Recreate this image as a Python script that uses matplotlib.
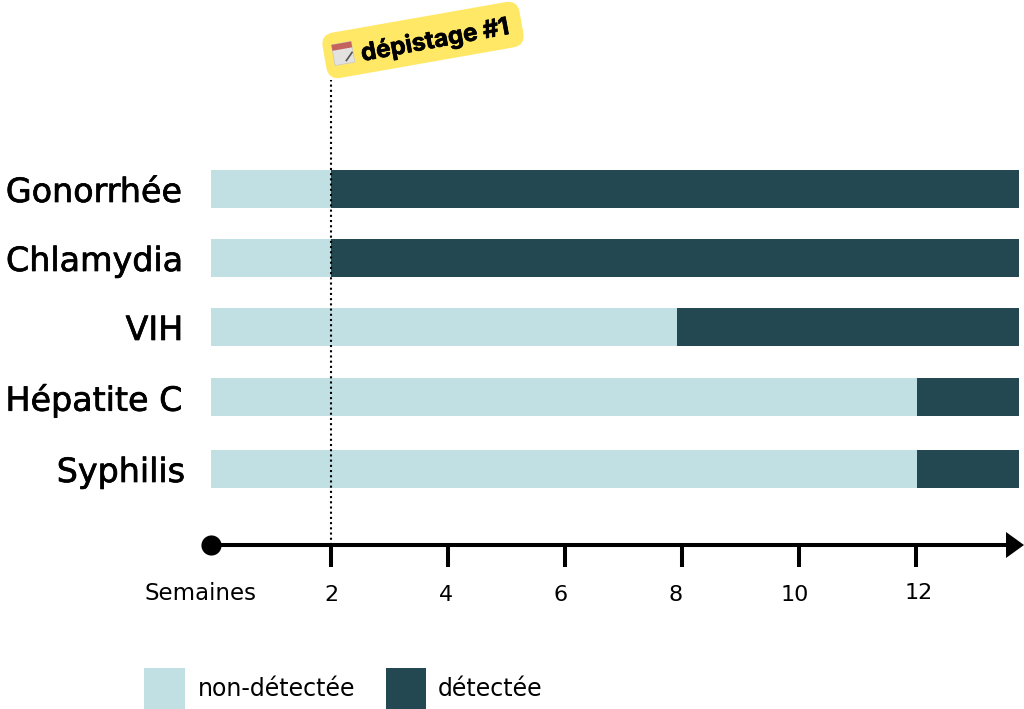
import matplotlib
matplotlib.use("Agg")
from matplotlib import pyplot as plt
from matplotlib import patheffects
from matplotlib.patches import FancyBboxPatch, Rectangle, Polygon
from matplotlib.transforms import Affine2D, ScaledTranslation

# data
diseases = ["Gonorrhée", "Chlamydia", "VIH", "Hépatite C", "Syphilis"]
detected_from = [2.0, 2.0, 7.92, 12.02, 12.02]
week_ticks = [2, 4, 6, 8, 10, 12]
week_labels = ["2", "4", "6", "8", "10", "12"]
axis_end = 13.76
legend_labels = ["non-détectée", "détectée"]

light = "#C1E0E3"
dark = "#244852"
plt.rcParams["font.family"] = ["DejaVu Sans"]

W, H = 1024, 709
fig = plt.figure(figsize=(W / 100, H / 100), dpi=100)
heavy = [patheffects.withStroke(linewidth=0.5, foreground="black")]

# main axes: bottom edge sits on the time axis line
ax = fig.add_axes([211 / W, (H - 545) / H, (W - 211) / W, 545 / H])
ax.set_xlim(-0.051, 13.846)
ax.set_ylim(545, 0)
row_y = [189, 258, 327, 397, 469]
row_dx = [-1, 0, 0, -1, 2]
tick_dx = [0, -2, -4, -6, -4, 3]
tick_dy = [0, 0, 0, 0, 0, 2]

for y, d in zip(row_y, detected_from):
    ax.barh(y, d + 0.051, left=-0.051, height=38, color=light, zorder=1)
    ax.barh(y, axis_end - d, left=d, height=38, color=dark, zorder=1)

ax.axvline(2, ymin=0, ymax=(545 - 80) / 545, color="black", lw=1.5, ls=(0, (1, 1.5)), zorder=3)

for s in ax.spines.values():
    s.set_visible(False)
ax.patch.set_visible(False)
ax.set_xticks(week_ticks, week_labels, fontsize=16)
ax.tick_params(axis="x", length=16, width=2.9, pad=13, color="black")
ax.set_yticks(row_y, diseases, fontsize=24)
ax.tick_params(axis="y", length=0, pad=20)

for lab, dx, dy in zip(ax.get_xticklabels(), tick_dx, tick_dy):
    lab.set_transform(lab.get_transform() + ScaledTranslation(dx / 100, dy / 100, fig.dpi_scale_trans))
for lab, dx in zip(ax.get_yticklabels(), row_dx):
    lab.set_transform(lab.get_transform() + ScaledTranslation(dx / 100, 0, fig.dpi_scale_trans))
    lab.set_path_effects(heavy)

# overlay in pixels for axis line, note and legend
ov = fig.add_axes([0, 0, 1, 1])
ov.set_xlim(0, W)
ov.set_ylim(H, 0)
ov.axis("off")

ov.plot([211, 1008], [545, 545], color="black", lw=2.9, solid_capstyle="butt")
ov.add_patch(Polygon([[1006, 532], [1024, 545], [1006, 558]], color="black", lw=0))
ov.plot([211], [545], "o", color="black", ms=14.5, mew=0)
ov.text(201, 594, "Semaines", fontsize=16.5, ha="center", va="center", color="black")

# yellow note, tilted
rot = Affine2D().rotate_deg_around(423, 40, -10) + ov.transData
ov.add_patch(FancyBboxPatch((326, 20), 194, 40, boxstyle="round,pad=0,rounding_size=9",
                            fc="#FFE866", ec="#FFE866", lw=4.3, transform=rot))
ov.text(435, 40, "dépistage #1", fontsize=17.5, fontweight="bold", family="Inter", ha="center", va="center",
        rotation=10.5, rotation_mode="anchor", color="black", path_effects=heavy)

# calendar icon
rot_icon = Affine2D().rotate_deg_around(343, 53, -10) + ov.transData
ov.add_patch(Rectangle((333, 43), 20, 21, fc="#E4E2E0", ec="#C9C7C5", lw=0.5, transform=rot_icon))
ov.add_patch(Rectangle((333, 43), 20, 6, fc="#C4625E", ec="none", transform=rot_icon))
ov.plot([345, 352], [61, 54], color="#555555", lw=1.2, transform=rot_icon)

# legend
ov.add_patch(Rectangle((144, 668), 41, 41, fc=light, ec="none"))
ov.add_patch(Rectangle((386, 668), 40, 41, fc=dark, ec="none"))
ov.text(198, 689, legend_labels[0], fontsize=17, ha="left", va="center", color="black")
ov.text(438, 689, legend_labels[1], fontsize=17, ha="left", va="center", color="black")

fig.savefig("out.png", dpi=100)
